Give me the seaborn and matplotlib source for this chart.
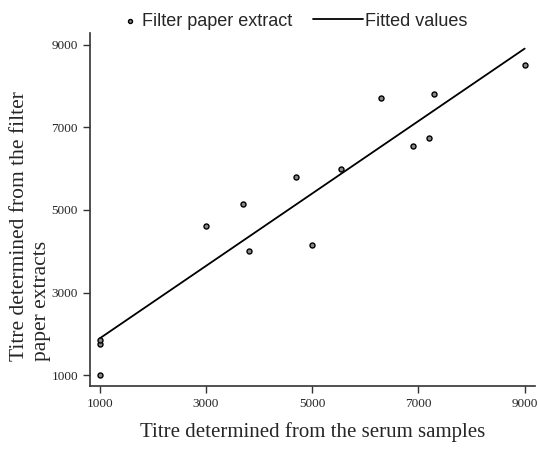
import numpy as np
import pandas as pd
import matplotlib
matplotlib.use("Agg")
import matplotlib.pyplot as plt
import seaborn as sns

# titres
serum = [1000, 1000, 1000, 3000, 3700, 3800, 4700, 5000, 5550, 6300, 6900, 7200, 7300, 9000]
filter_paper = [1000, 1750, 1850, 4600, 5150, 4000, 5800, 4150, 6000, 7700, 6550, 6750, 7800, 8500]
ticks = [1000, 3000, 5000, 7000, 9000]

df = pd.DataFrame({'serum': serum, 'filter': filter_paper})

sns.set_style('ticks')
plt.rcParams['font.family'] = ['Liberation Serif', 'DejaVu Serif']

fig = plt.figure(figsize=(5.38, 4.5), dpi=100)
ax = fig.add_axes([0.167, 0.142, 0.827, 0.785])

sns.scatterplot(data=df, x='serum', y='filter', ax=ax, s=13, facecolor='#888888',
                edgecolor='black', linewidth=1.0, label='Filter paper extract', zorder=3)
sns.regplot(data=df, x='serum', y='filter', ci=None, ax=ax, scatter=False,
            label='Fitted values', line_kws=dict(color='black', linewidth=1.3))

ax.set_xlim(812, 9190)
ax.set_ylim(733, 9290)
ax.set_xticks(ticks)
ax.set_yticks(ticks)
ax.tick_params(labelsize=9.5, length=5, width=1, color='#333333')
for side in ['top', 'right']:
    ax.spines[side].set_visible(False)
for side in ['left', 'bottom']:
    ax.spines[side].set_color('#333333')
    ax.spines[side].set_linewidth(1.2)

ax.set_xlabel('Titre determined from the serum samples', fontsize=15, labelpad=9)
ax.set_ylabel('Titre determined from the filter\npaper extracts', fontsize=15.5,
              multialignment='left', linespacing=1.2)
ax.yaxis.set_label_coords(-0.088, 0.453)

handles, labels = ax.get_legend_handles_labels()
ax.get_legend().remove()
prop = {'family': 'Liberation Sans', 'size': 13}
leg1 = fig.legend(handles[:1], labels[:1], loc='center left', bbox_to_anchor=(0.212, 0.953),
                  frameon=False, borderpad=0, handlelength=0.8, handletextpad=0.25,
                  markerscale=0.8, prop=prop)
leg2 = fig.legend(handles[1:], labels[1:], loc='center left', bbox_to_anchor=(0.565, 0.953),
                  frameon=False, borderpad=0, handlelength=2.75, handletextpad=0.15, prop=prop)

fig.savefig('out.png', dpi=100)
